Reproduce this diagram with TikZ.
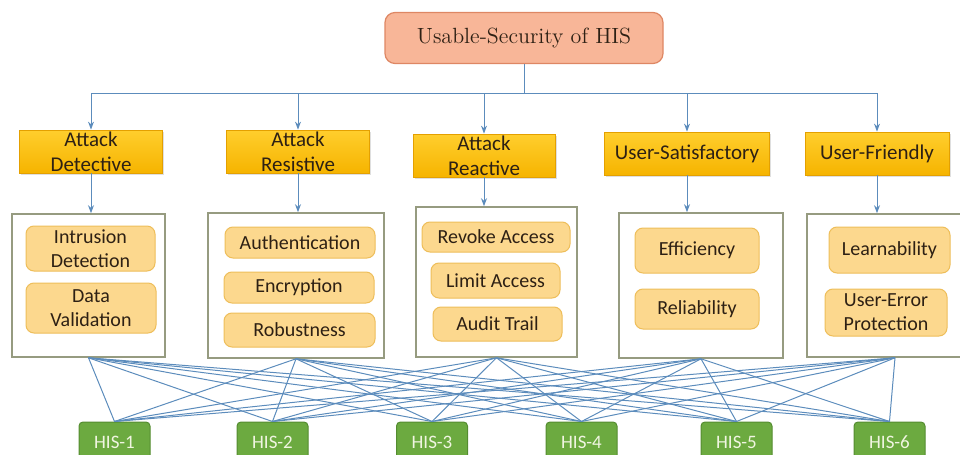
\documentclass[tikz,border=0pt]{standalone}
\usepackage{fontspec}
\setsansfont{Carlito}
\usetikzlibrary{arrows.meta,shadows}

\definecolor{rootfill}{RGB}{248,182,152}
\definecolor{rootedge}{RGB}{222,135,100}
\definecolor{cattop}{RGB}{255,206,45}
\definecolor{catbottom}{RGB}{246,180,0}
\definecolor{catedge}{RGB}{228,160,0}
\definecolor{darktext}{RGB}{45,32,20}
\definecolor{itemfill}{RGB}{252,216,142}
\definecolor{itemedge}{RGB}{238,190,90}
\definecolor{groupedge}{RGB}{150,155,128}
\definecolor{sysfill}{RGB}{108,170,64}
\definecolor{sysedge}{RGB}{84,140,48}
\definecolor{systext}{RGB}{240,245,225}
\definecolor{linkblue}{RGB}{92,140,188}

\begin{document}
\begin{tikzpicture}[x=0.5pt,y=-0.5pt,
  root/.style={draw=rootedge,fill=rootfill,rounded corners=5pt,line width=0.6pt,minimum width=139pt,minimum height=25.5pt,text=darktext,font=\fontsize{11}{13}\selectfont},
  category/.style={draw=catedge,top color=cattop,bottom color=catbottom,line width=0.4pt,minimum height=21.5pt,inner sep=0pt,align=center,text=darktext,font=\sffamily\fontsize{10.5}{12.5}\selectfont,drop shadow={opacity=0.25,shadow xshift=0.8pt,shadow yshift=-0.8pt}},
  group/.style={draw=groupedge,fill=white,line width=0.8pt,inner sep=0pt},
  item/.style={draw=itemedge,fill=itemfill,rounded corners=4pt,line width=0.5pt,inner sep=0pt,align=center,text=darktext,font=\sffamily\fontsize{10}{12}\selectfont},
  system/.style={draw=sysedge,fill=sysfill,rounded corners=2pt,line width=0.5pt,minimum width=35.5pt,minimum height=20pt,text=systext,font=\sffamily\fontsize{9.5}{11}\selectfont},
  link/.style={draw=linkblue,line width=0.5pt},
  feed/.style={link,-{Stealth[length=4pt,width=3pt]}}
]
\useasboundingbox (0,0) rectangle (960,455);

\node[root] (his_root) at (524,38) {Usable-Security of HIS};
\coordinate (bus) at (524,93);

% the five aspects
\node[category,minimum width=71.5pt] (detective) at (91,151.5) {Attack\\Detective};
\node[category,minimum width=71.5pt] (resistive) at (298,151.5) {Attack\\Resistive};
\node[category,minimum width=71pt] (reactive) at (484,155.5) {Attack\\Reactive};
\node[category,minimum width=82.5pt] (satisfactory) at (687,153.5) {User-Satisfactory};
\node[category,minimum width=72pt] (friendly) at (877,153.5) {User-Friendly};

% frames under each aspect
\node[group,minimum width=76.5pt,minimum height=71.5pt] (detective_box) at (88.5,285.5) {};
\node[group,minimum width=88pt,minimum height=72.5pt] (resistive_box) at (296,285.5) {};
\node[group,minimum width=80.5pt,minimum height=75pt] (reactive_box) at (496.5,282) {};
\node[group,minimum width=82pt,minimum height=72.5pt] (satisfactory_box) at (701,285.5) {};
\node[group,minimum width=88pt,minimum height=71.5pt] (friendly_box) at (895,285.5) {};

\node[item,minimum width=64.5pt,minimum height=22.5pt] (intrusion) at (90.5,248.5) {Intrusion\\Detection};
\node[item,minimum width=65pt,minimum height=25pt] (validation) at (91,308) {Data\\Validation};

\node[item,minimum width=75pt,minimum height=15.5pt] (authentication) at (300,242.5) {Authentication};
\node[item,minimum width=75pt,minimum height=15.5pt] (encryption) at (299,287.5) {Encryption};
\node[item,minimum width=75.5pt,minimum height=17pt] (robustness) at (299.5,330) {Robustness};

\node[item,minimum width=74pt,minimum height=15pt] (revoke) at (496,237) {Revoke Access};
\node[item,minimum width=64.5pt,minimum height=17.5pt] (limit) at (495.5,280.5) {Limit Access};
\node[item,minimum width=64.5pt,minimum height=17pt] (audit) at (497.5,324) {Audit Trail};

\node[item,minimum width=62pt,minimum height=22.5pt] (efficiency) at (697,250.5) {Efficiency};
\node[item,minimum width=62pt,minimum height=20pt] (reliability) at (697,309) {Reliability};

\node[item,minimum width=60.5pt,minimum height=23pt] (learnability) at (889.5,250) {Learnability};
\node[item,minimum width=61pt,minimum height=23.5pt] (user_error) at (886,312.5) {User-Error\\Protection};

% systems
\node[system] (his_1) at (114.5,442) {HIS-1};
\node[system] (his_2) at (272.5,442) {HIS-2};
\node[system] (his_3) at (432,442) {HIS-3};
\node[system] (his_4) at (581.5,442) {HIS-4};
\node[system] (his_5) at (736.5,442) {HIS-5};
\node[system] (his_6) at (889.5,442) {HIS-6};

% tree
\draw[link] (his_root.south) -- (bus);
\draw[link] (detective.north |- bus) -- (friendly.north |- bus);
\foreach \c in {detective,resistive,reactive,satisfactory,friendly}{
  \draw[feed] (\c.north |- bus) -- (\c.north);
  \draw[feed] (\c.south) -- (\c.south |- \c_box.north);
}

% every aspect to every system
\foreach \c in {detective,resistive,reactive,satisfactory,friendly}
  \foreach \h in {1,...,6}
    \draw[link] (\c_box.south) -- (his_\h.north);

\end{tikzpicture}
\end{document}
